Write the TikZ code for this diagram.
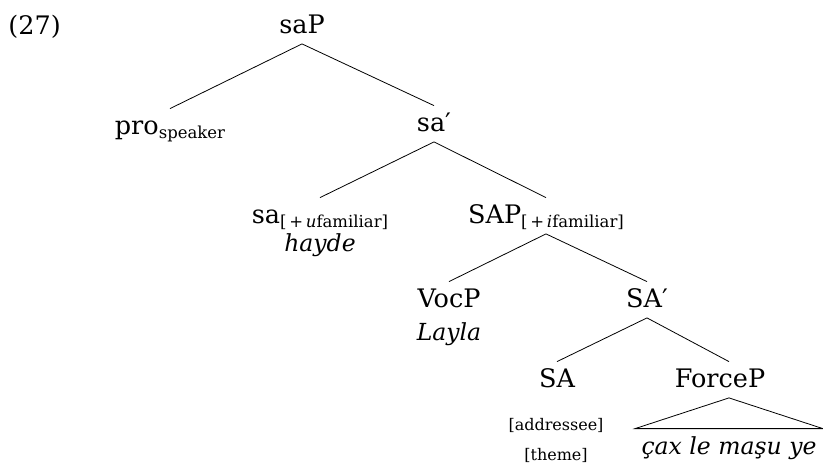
\documentclass[tikz,border=0pt]{standalone}
\usepackage{fontspec}
\setmainfont{DejaVu Serif}
\newcommand{\low}[1]{\raisebox{-4.5pt}{\fontsize{16.5}{20}\selectfont #1}}
\begin{document}
\begin{tikzpicture}[x=1pt,y=-1pt,line width=0.8pt]
  \tikzstyle{every node}=[inner sep=0pt,anchor=base,font=\fontsize{25.5}{30}\selectfont]
  \tikzstyle{cat}=[text height=21pt,text depth=6.5pt,inner ysep=4pt]
  \tikzstyle{word}=[font=\fontsize{23.5}{28}\selectfont\itshape]
  \tikzstyle{feat}=[font=\fontsize{16}{20}\selectfont]
  \useasboundingbox (0,0) rectangle (823,466);
  \node[anchor=base west] (exnum) at (8,34) {(27)};
% upper part of the tree
  \node[cat] (saP)      at (302,33)  {saP};
  \node[cat] (pro)      at (170,134) {pro\low{speaker}};
  \node[cat] (sabar)    at (434,131) {sa′};
  \node[cat] (sa)       at (320,223) {sa\low{[\,+\,\textit{u}familiar]}};
  \node[word] (hayde)   at (320,251) {hayde};
  \node[cat] (SAP)      at (546,223) {SAP\low{[\,+\,\textit{i}familiar]}};
  \draw (saP.south) -- (pro.north);
  \draw (saP.south) -- (sabar.north);
  \draw (sabar.south) -- (sa.north);
  \draw (sabar.south) -- (SAP.north);
% lower part of the tree
  \node[cat] (VocP)     at (449,307) {VocP};
  \node[word] (Layla)   at (449,340) {Layla};
  \node[cat] (SAbar)    at (647,307) {SA′};
  \draw (SAP.south) -- (VocP.north);
  \draw (SAP.south) -- (SAbar.north);
  \node[cat] (SA)       at (557,387) {SA};
  \node[feat] (addr)    at (556,430) {[addressee]};
  \node[feat] (theme)   at (556,460) {[theme]};
  \node[cat] (ForceP)   at (720,387) {ForceP};
  \node[cat,word,inner xsep=6pt] (cax) at (729,454) {çax le maşu ye};
  \draw (SAbar.south) -- (SA.north);
  \draw (SAbar.south) -- (ForceP.north -| cax.north);
  \draw (ForceP.south -| cax.north) -- (cax.north east) -- (cax.north west) -- cycle;
\end{tikzpicture}
\end{document}
